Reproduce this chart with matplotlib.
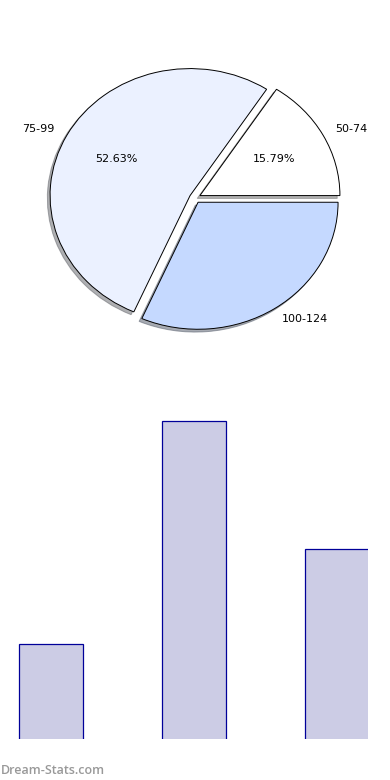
import matplotlib
matplotlib.use("Agg")
import matplotlib.pyplot as plt

# data
categories = ["50-74", "75-99", "100-124"]
counts = [3, 10, 6]
pie_colors = ["#FFFFFF", "#EBF1FF", "#C5D9FF"]
explode = [0.04, 0.04, 0.04]

W, H = 390, 780
fig = plt.figure(figsize=(W / 100, H / 100), dpi=100)


def px_axes(left, top, width, height):
    """Add an axes placed in pixel coordinates (top-left origin)."""
    return fig.add_axes([left / W, (H - top - height) / H, width / W, height / H])


# pie: unit radius is 140 px wide and 127 px tall, centre at (195, 198)
rx, ry, cx, cy = 140, 127, 195, 198
ax_pie = px_axes(cx - 1.25 * rx, cy - 1.25 * ry, 2.5 * rx, 2.5 * ry)
wedges, texts, autotexts = ax_pie.pie(
    counts,
    labels=categories,
    colors=pie_colors,
    explode=explode,
    startangle=0,
    autopct="%.2f%%",
    shadow=dict(ox=-0.014, oy=-0.016, shade=0.6),
    wedgeprops=dict(edgecolor="black", linewidth=0.7),
    textprops=dict(fontsize=8, color="black"),
)
autotexts[2].set_visible(False)
ax_pie.set_aspect("auto")
ax_pie.set_xlim(-1.25, 1.25)
ax_pie.set_ylim(-1.25, 1.25)
ax_pie.axis("off")

# bars: 143 px per category, 31.9 px per count, baseline just below the axes
step, unit = 143.0, 31.9
bar_w = 64 / step
ax_bar = px_axes(18, 399, 350, 340)
x = list(range(len(counts)))
ax_bar.bar(x, counts, width=bar_w, color="#CCCCE5", edgecolor="#000099", linewidth=0.9)
x0 = -bar_w / 2 - 1 / step
ax_bar.set_xlim(x0, x0 + 350 / step)
ax_bar.set_ylim(0.03, 0.03 + 340 / unit)
ax_bar.axis("off")

fig.text(0.5 / W, 1 - 770 / H, "Dream-Stats.com", fontsize=9, color="#999999",
         family="Open Sans", weight="semibold", ha="left", va="center")

fig.savefig("out.png", dpi=100)
